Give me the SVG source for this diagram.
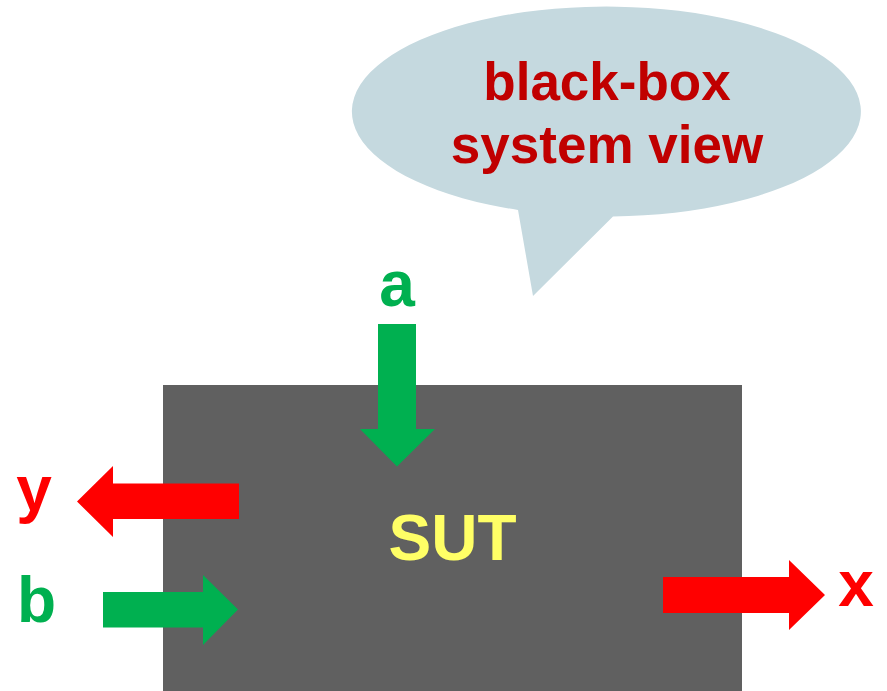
<svg xmlns="http://www.w3.org/2000/svg" width="887" height="691" viewBox="0 0 887 691">
<style>
text{font-family:"Liberation Sans",Arial,sans-serif;font-weight:bold;text-anchor:middle}
.lbl{font-size:64px}
.g{fill:#00B050}
.r{fill:#FF0000}
</style>
<rect width="887" height="691" fill="#FFFFFF"/>
<g id="callout">
<path d="M518,210 A254.5,105 0 1 1 613,216.5 L533,296 Z" fill="#C5D9DF"/>
<text x="607" y="100" font-size="53" fill="#C00000">black-box</text>
<text x="607" y="163" font-size="53" fill="#C00000">system view</text>
</g>
<g id="sut">
<rect x="163" y="385" width="579" height="306" fill="#606060"/>
<text x="452.5" y="560" class="lbl" fill="#FFFF66">SUT</text>
</g>
<g id="connectors">
<polygon class="g" points="378,324 416,324 416,429 435,429 397,466.5 360,429 378,429"/>
<polygon class="r" points="239,483.5 113,483.5 113,466 77,501.5 113,537 113,519 239,519"/>
<polygon class="g" points="103,592 203,592 203,575 238,609.5 203,645 203,627.5 103,627.5"/>
<polygon class="r" points="663,577 789,577 789,560 825,595 789,630 789,613 663,613"/>
</g>
<g id="label-a"><text x="397" y="306" class="lbl g">a</text></g>
<g id="label-y"><text x="34" y="511" class="lbl r">y</text></g>
<g id="label-b"><text x="36.5" y="622" class="lbl g">b</text></g>
<g id="label-x"><text x="856" y="605.5" class="lbl r">x</text></g>
</svg>
